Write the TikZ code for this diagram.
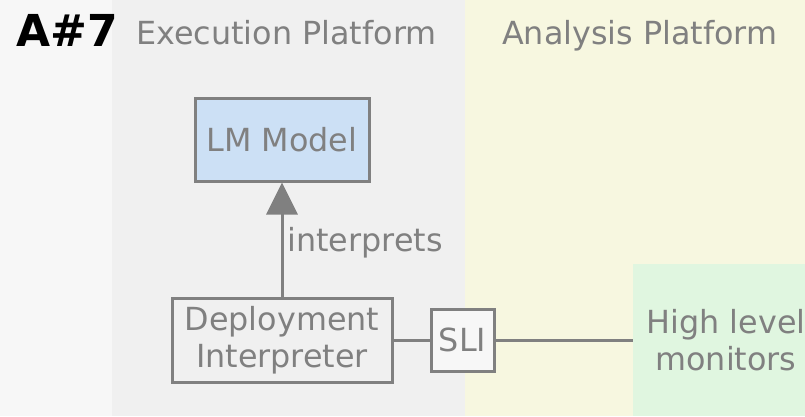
\documentclass[tikz,border=0pt]{standalone}
\usepackage{fontspec}
\setmainfont{DejaVu Sans}
\usetikzlibrary{arrows.meta}
\definecolor{edge}{HTML}{808080}
\definecolor{leftbg}{HTML}{F7F7F7}
\definecolor{execbg}{HTML}{F0F0F0}
\definecolor{anabg}{HTML}{F7F7E0}
\definecolor{monbg}{HTML}{E0F6E0}
\definecolor{lmblue}{HTML}{CCE0F5}
\definecolor{slibg}{HTML}{F7F7F7}
\tikzset{
  txt/.style={font=\fontsize{31.8}{37}\selectfont, text=edge},
  boxnode/.style={txt, draw=edge, line width=3pt, align=center, inner sep=0pt},
  title/.style={txt, anchor=base west, inner sep=0pt},
  conn/.style={draw=edge, line width=3pt},
}
\begin{document}
\begin{tikzpicture}[x=1pt,y=-1pt]
\clip (0,0) rectangle (805,416);
\useasboundingbox (0,0) rectangle (805,416);
\fill[leftbg] (0,0) rectangle (112,416);
\fill[execbg] (112,0) rectangle (465,416);
\fill[anabg] (465,0) rectangle (805,416);
\node[anchor=base west, inner sep=0pt, font=\bfseries\fontsize{44}{44}\selectfont, text=black] (aid) at (16,46) {A\#7};
\node[title] (exec) at (136,44) {Execution Platform};
\node[title] (ana) at (502,44) {Analysis Platform};
\node[boxnode, fill=lmblue, minimum width=174pt, minimum height=83pt] (lm) at (282,139.5) {LM Model};
\node[boxnode, fill=execbg, minimum width=220pt, minimum height=84pt] (di) at (282,340) {Deployment\\Interpreter};
\node[boxnode, fill=slibg, minimum width=63pt, minimum height=62pt] (sli) at (462.5,340) {SLI};
\node[txt, fill=monbg, align=center, inner sep=0pt, minimum width=186pt, minimum height=152pt] (hlm) at (726,340) {High level\\monitors};
\draw[conn, -{Triangle[width=31pt,length=32pt]}] (di.north) -- node[txt, anchor=west, inner sep=4pt, pos=0.47] (lbl) {interprets} (lm.south);
\draw[conn] (di.east) -- (sli.west);
\draw[conn] (sli.east) -- (hlm.west);
\end{tikzpicture}
\end{document}
